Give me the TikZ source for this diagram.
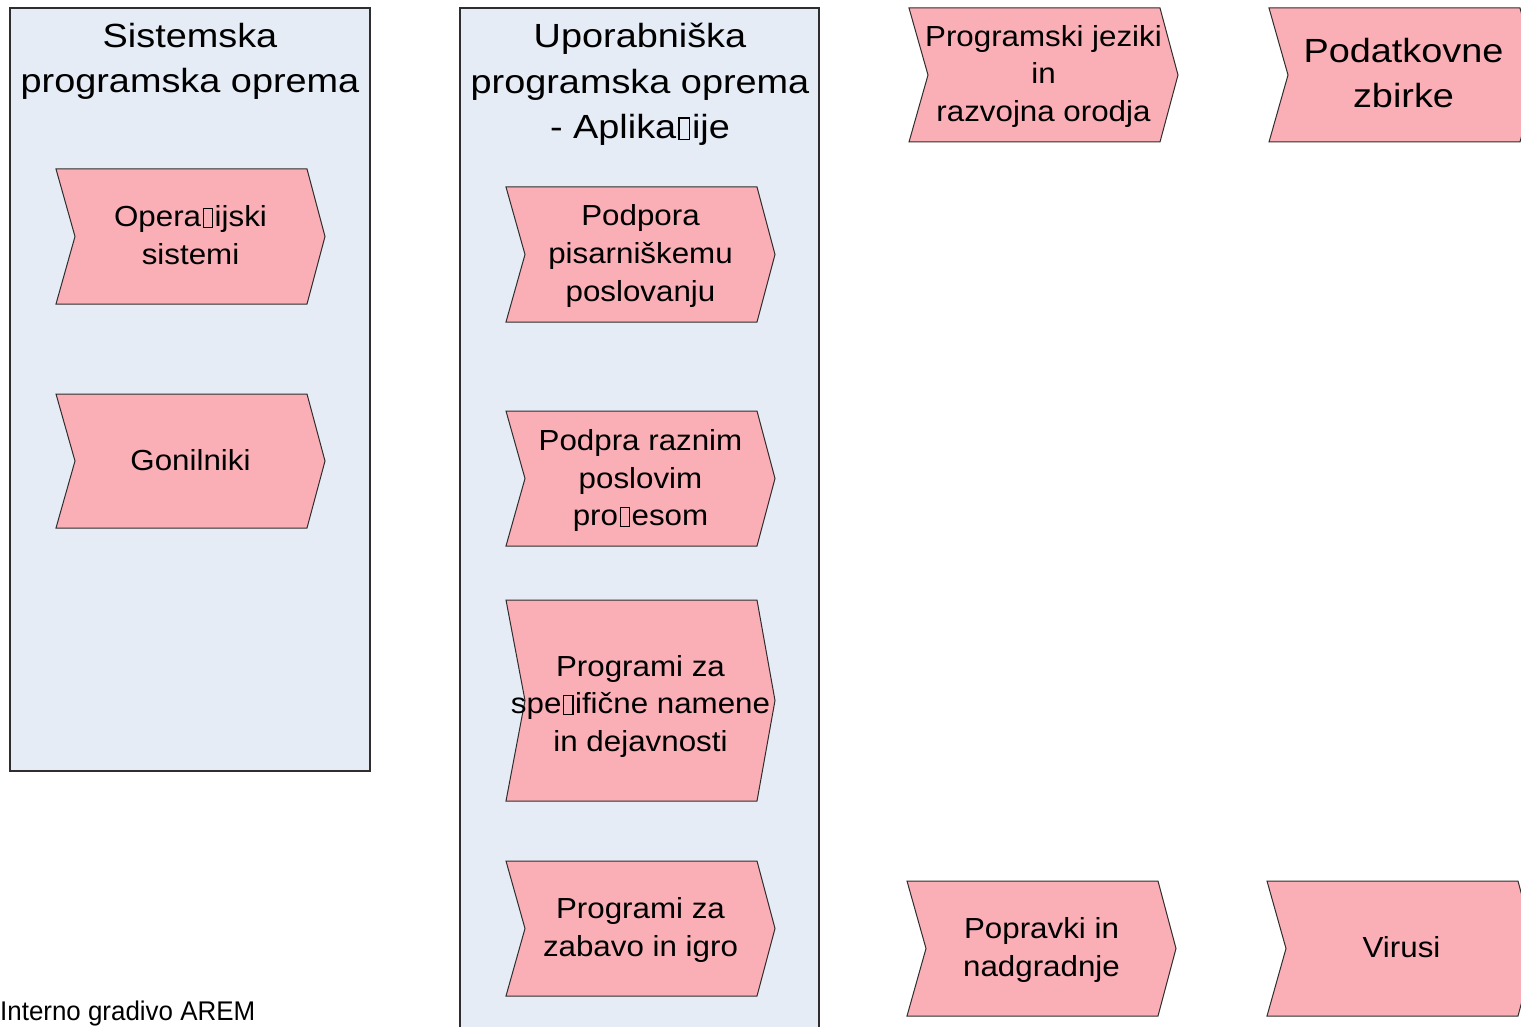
\documentclass[tikz,border=0pt]{standalone}
\usepackage{fontspec}
\setmainfont{Liberation Sans}
\newfontfamily\titlefont[FakeStretch=1.13]{Liberation Sans}
\newfontfamily\boxfont[FakeStretch=1.08]{Liberation Sans}
\newfontfamily\notefont[FakeStretch=0.96]{Liberation Sans}

\definecolor{panelfill}{HTML}{E6ECF6}
\definecolor{chevfill}{HTML}{FAAFB6}
\definecolor{edgegray}{HTML}{2E2E2E}

% empty box standing in for a character the font could not set
\newcommand\nog{{\setlength\fboxsep{0pt}\setlength\fboxrule{0.04em}%
  \kern0.06em\fbox{\rule{0.28em}{0pt}\rule{0pt}{0.6em}}\kern0.05em}}

\tikzset{
  panel/.style={draw=edgegray, line width=1.2pt, fill=panelfill},
  chevshape/.style={draw=edgegray, line width=1pt, fill=chevfill, line join=miter},
  chevtext/.style={align=center, inner sep=0pt, font=\boxfont\fontsize{29}{37.5}\selectfont},
  bigtext/.style={align=center, inner sep=0pt, font=\titlefont\fontsize{33.5}{44.4}\selectfont},
  paneltitle/.style={align=center, inner sep=0pt, font=\titlefont\fontsize{33.5}{45.5}\selectfont},
}

% chevron: [text style] name, left x, top y, bottom y, text shift, text
\newcommand\chevbox[7][]{%
  \draw[chevshape] (#3,#4) -- ({#3+251},#4) -- ({#3+269},{(#4+#5)/2})
    -- ({#3+251},#5) -- (#3,#5) -- ({#3+19},{(#4+#5)/2}) -- cycle;
  \node[chevtext,#1] (#2) at ({#3+134.5},{(#4+#5)/2+#6}) {#7};}

\begin{document}
\begin{tikzpicture}[x=1pt, y=-1pt]
  \useasboundingbox (0,0) rectangle (1521,1027);
  \clip (0,0) rectangle (1521,1027);

  % the two category panels
  \draw[panel] (10,8) rectangle (370,771);
  \draw[panel] (460,8) rectangle (819,1045);

  \node[paneltitle] (systitle) at (190,60.8)
    {\strut Sistemska\\\strut programska oprema};
  \node[paneltitle] (apptitle) at (640,84.2)
    {\strut Uporabniška\\\strut programska oprema\\\strut - Aplika\nog ije};

  % system software
  \chevbox{opsys}{56}{169}{304}{1.5}{\strut Opera\nog ijski\\\strut sistemi}
  \chevbox{drivers}{56}{394}{528}{1.5}{\strut Gonilniki}

  % application software
  \chevbox{office}{506}{187}{322}{1.5}{\strut Podpora\\\strut pisarniškemu\\\strut poslovanju}
  \chevbox{business}{506}{411}{546}{2}{\strut Podpra raznim\\\strut poslovim\\\strut pro\nog esom}
  \chevbox{special}{506}{600}{801}{5.5}{\strut Programi za\\\strut spe\nog ifične namene\\\strut in dejavnosti}
  \chevbox{games}{506}{861}{996}{1.5}{\strut Programi za\\\strut zabavo in igro}

  % further groups
  \chevbox{langs}{909}{8}{142}{1.5}{\strut Programski jeziki\\\strut in\\\strut razvojna orodja}
  \chevbox[bigtext]{data}{1269}{8}{142}{1}{\strut Podatkovne\\\strut zbirke}
  \chevbox{patches}{907}{881}{1016}{1.5}{\strut Popravki in\\\strut nadgradnje}
  \chevbox{viruses}{1267}{881}{1016}{1.5}{\strut Virusi}

  \node[anchor=west, inner sep=0pt, font=\notefont\fontsize{27}{32}\selectfont] (note)
    at (0,1014) {\strut Interno gradivo AREM};
\end{tikzpicture}
\end{document}
